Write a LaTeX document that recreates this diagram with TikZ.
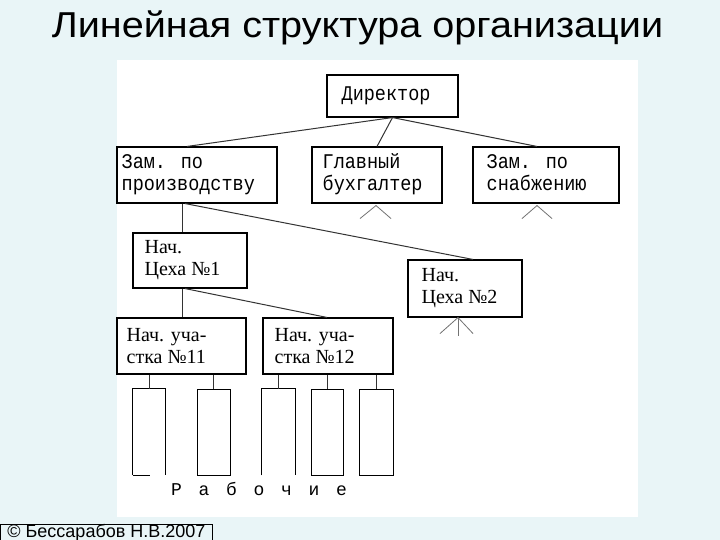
\documentclass[tikz,border=0pt]{standalone}
\usepackage{fontspec}
\setmainfont{Liberation Serif}
\newfontfamily\monofnt{Liberation Mono}
\newfontfamily\sansfnt{Liberation Sans}
\usetikzlibrary{calc}
\definecolor{slidebg}{RGB}{233,245,247}
\newcommand{\mtx}[1]{\scalebox{1}[1.13]{\begin{tabular}{@{}l@{}}#1\end{tabular}}}
\begin{document}
\begin{tikzpicture}[x=1pt,y=-1pt,
  box/.style n args={2}{draw=black,line width=1.1pt,inner sep=0pt,minimum width=#1,minimum height=#2},
  wbox/.style n args={2}{draw=black,line width=0.9pt,inner sep=0pt,minimum width=#1,minimum height=#2},
  mtext/.style={font=\monofnt\fontsize{18.5}{19}\selectfont,align=left,inner sep=0pt,anchor=west},
  stext/.style={font=\fontsize{20}{22}\selectfont,align=left,inner sep=0pt,anchor=west},
  conn/.style={draw=black!80,line width=1pt},
  tick/.style={draw=black!55,line width=0.8pt},
  wline/.style={draw=black,line width=0.9pt}]
\useasboundingbox (0,0) rectangle (720,540);
\fill[slidebg] (0,0) rectangle (720,540);
\fill[white] (117,60) rectangle (638,517);

% title
\node[font=\sansfnt\fontsize{36}{40}\selectfont,anchor=base,inner sep=0pt] (title) at (357.5,37.5)
  {\scalebox{1.1}[1]{Линейная структура организации}};

% boxes
\node[box={131pt}{42pt}] (dir) at (392.5,96) {};
\node[box={160pt}{56pt}] (zp) at (197,175) {};
\node[box={130pt}{56pt}] (gb) at (377,175) {};
\node[box={146pt}{56pt}] (zs) at (546,175) {};
\node[box={114pt}{55pt}] (c1) at (190,260.5) {};
\node[box={114pt}{57pt}] (c2) at (465,288.5) {};
\node[box={129pt}{56pt}] (u11) at (181.5,346) {};
\node[box={130pt}{56pt}] (u12) at (328,346) {};

% texts
\node[mtext] (dirt) at ([xshift=15pt]dir.west) {\mtx{Директор}};
\node[mtext] (zpt) at ([xshift=5pt]zp.west) {\mtx{Зам. по\\производству}};
\node[mtext] (gbt) at ([xshift=11pt]gb.west) {\mtx{Главный\\бухгалтер}};
\node[mtext] (zst) at ([xshift=14pt]zs.west) {\mtx{Зам. по\\снабжению}};
\node[stext] (c1t) at ([xshift=12pt]c1.west) {Нач.\\Цеха №1};
\node[stext] (c2t) at ([xshift=14pt]c2.west) {Нач.\\Цеха №2};
\node[stext] (u11t) at ([xshift=10pt]u11.west) {Нач. уча-\\стка №11};
\node[stext] (u12t) at ([xshift=12pt]u12.west) {Нач. уча-\\стка №12};

% connectors
\draw[conn] (dir.south) -- ([xshift=-10pt]zp.north);
\draw[conn] (dir.south) -- (gb.north);
\draw[conn] (dir.south) -- ([xshift=-9pt]zs.north);
\draw[conn] ([xshift=-15pt]zp.south) -- ([xshift=-8pt]c1.north);
\draw[conn] ([xshift=-12pt]zp.south) -- ([xshift=8pt]c2.north);
\draw[conn] ([xshift=-8pt]c1.south) -- ([xshift=-8pt]c1.south |- u11.north);
\draw[conn] ([xshift=-5pt]c1.south) -- ([xshift=-1pt]u12.north);

% open-ended marks
\coordinate (gba) at ([xshift=-1pt,yshift=-2pt]gb.south);
\draw[tick] ([xshift=-17pt,yshift=-15pt]gb.south) -- (gba) -- ([xshift=14pt,yshift=-15pt]gb.south);
\coordinate (zsa) at ([xshift=-9pt,yshift=-2pt]zs.south);
\draw[tick] ([xshift=-24pt,yshift=-15pt]zs.south) -- (zsa) -- ([xshift=6pt,yshift=-15pt]zs.south);
\coordinate (c2a) at ([xshift=-7pt]c2.south);
\draw[tick] ([xshift=-25pt,yshift=-16pt]c2.south) -- (c2a) -- ([xshift=8pt,yshift=-16pt]c2.south);
\draw[tick] (c2a) -- ([xshift=-7pt,yshift=-18pt]c2.south);

% workers
\node[wbox={32pt}{86pt},draw=none] (w1) at (149,432) {};
\node[wbox={33pt}{86pt}] (w2) at (213.5,432) {};
\node[wbox={33pt}{86pt},draw=none] (w3) at (278.5,432) {};
\node[wbox={32pt}{86pt}] (w4) at (327,432) {};
\node[wbox={34pt}{86pt}] (w5) at (376,432) {};
\draw[wline] (w1.south west) -- (w1.north west) -- (w1.north east) -- (w1.south east);
\draw[wline] ($(w1.south west)+(17,0)$) -- (w1.south west);
\draw[wline] (w3.south west) -- (w3.north west) -- (w3.north east) -- (w3.south east);
\draw[conn] (w1.north) -- (w1.north |- u11.south);
\draw[conn] (w2.north) -- (w2.north |- u11.south);
\draw[conn] (w3.north) -- (w3.north |- u12.south);
\draw[conn] (w4.north) -- (w4.north |- u12.south);
\draw[conn] (w5.north) -- (w5.north |- u12.south);

\node[font=\monofnt\fontsize{18}{20}\selectfont,anchor=base west,inner sep=0pt] (rab) at (171,495)
  {\makebox[27.5pt][l]{Р}\makebox[27.5pt][l]{а}\makebox[27.5pt][l]{б}\makebox[27.5pt][l]{о}\makebox[27.5pt][l]{ч}\makebox[27.5pt][l]{и}е};

% footer
\node[draw=black,line width=0.9pt,fill=slidebg,anchor=north west,inner sep=0pt,
  minimum width=212pt,minimum height=15.5pt,font=\sansfnt\fontsize{18}{20}\selectfont] (foot) at (0,524)
  {© Бессарабов Н.В.2007};
\end{tikzpicture}
\end{document}
